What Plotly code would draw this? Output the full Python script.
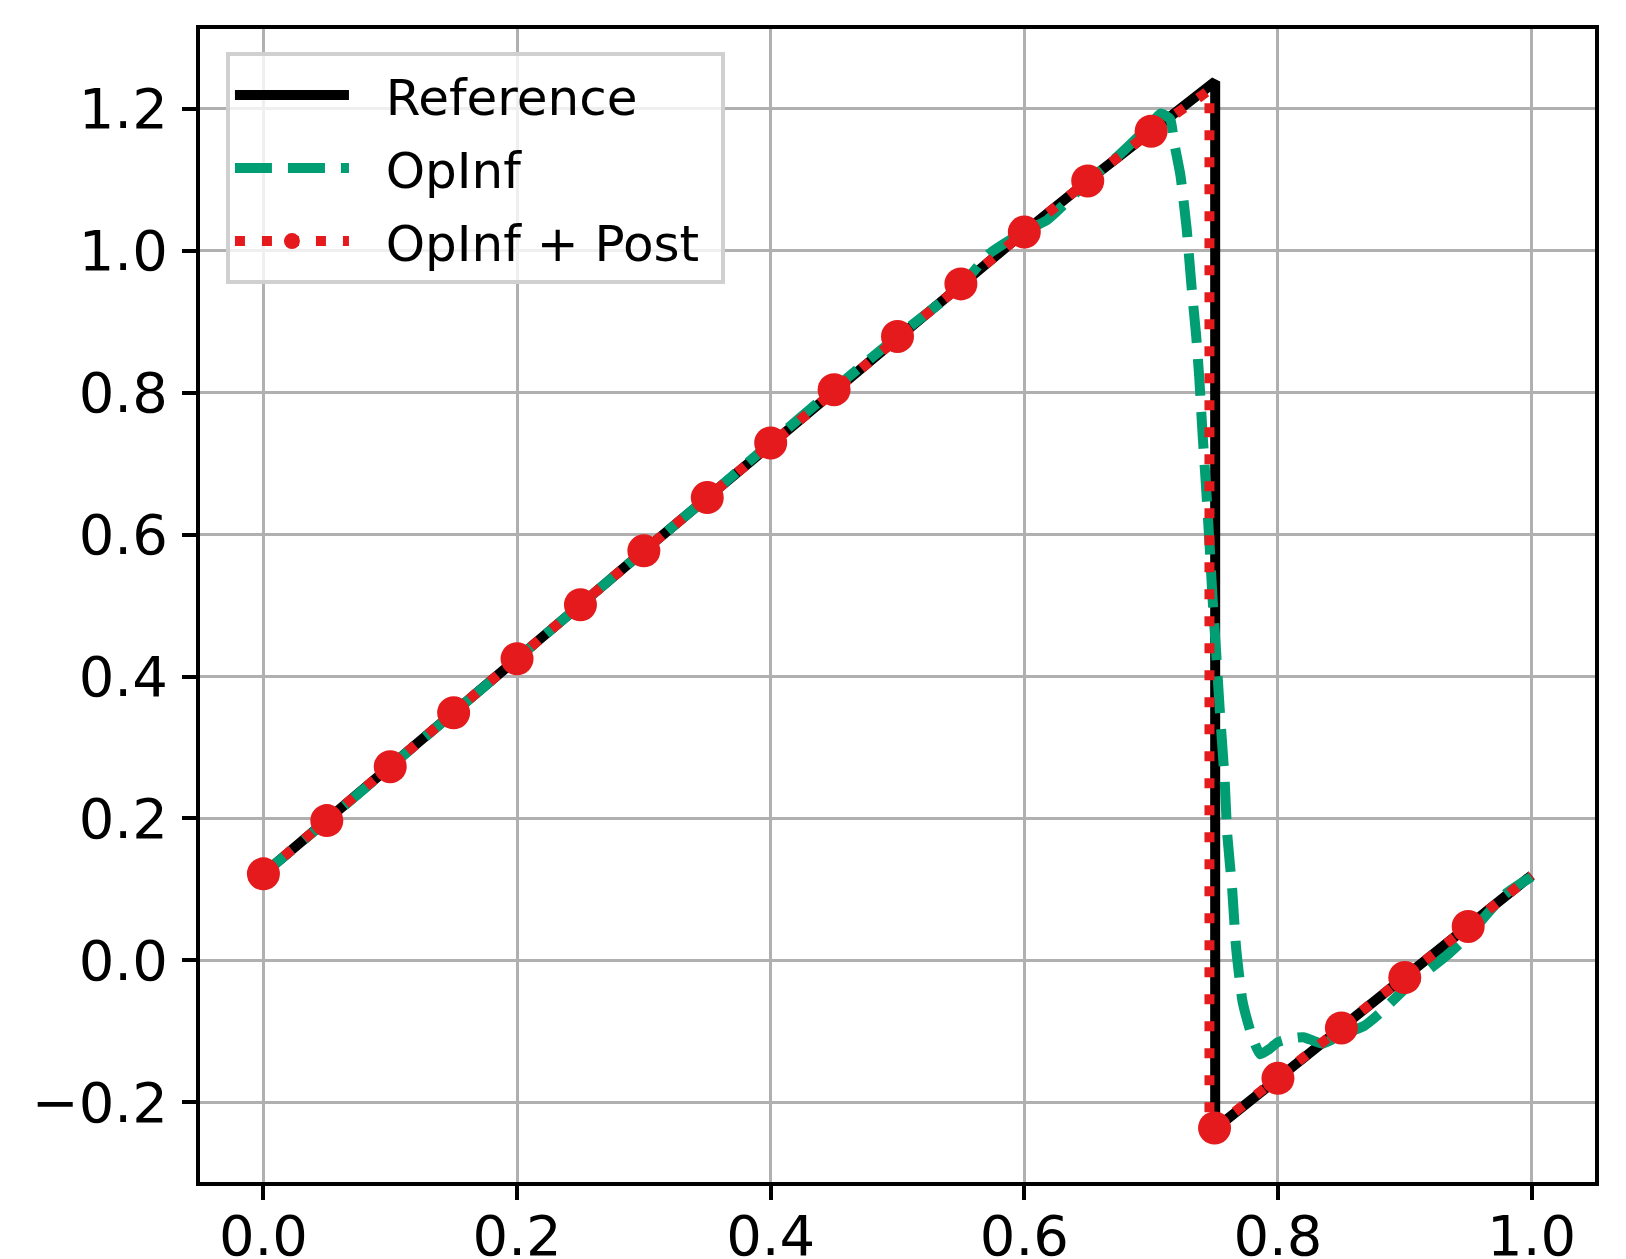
import plotly.graph_objects as go

# ---------------- data ----------------
REF_X = [0.00, 0.05, 0.10, 0.15, 0.20, 0.25, 0.30, 0.35, 0.40, 0.45, 0.50,
         0.55, 0.60, 0.65, 0.70, 0.7505, 0.7505, 0.80, 0.85, 0.90, 0.95, 1.00]
REF_Y = [0.122, 0.197, 0.273, 0.349, 0.425, 0.501, 0.577, 0.652, 0.729, 0.804, 0.879,
         0.953, 1.026, 1.098, 1.168, 1.238, -0.237, -0.166, -0.095, -0.024, 0.048, 0.120]

OPINF_X = [0.00, 0.05, 0.10, 0.15, 0.20, 0.25, 0.30, 0.35, 0.40, 0.45, 0.50,
           0.55, 0.572, 0.60, 0.618, 0.65, 0.675, 0.70, 0.7075, 0.715, 0.718,
           0.723, 0.728, 0.732, 0.7355, 0.738, 0.7405, 0.7434, 0.746, 0.7484,
           0.7513, 0.754, 0.758, 0.760, 0.764, 0.767, 0.772, 0.779, 0.786,
           0.793, 0.800, 0.810, 0.820, 0.835, 0.850, 0.868, 0.880, 0.900,
           0.935, 0.950, 0.979, 1.000]
OPINF_Y = [0.122, 0.197, 0.273, 0.349, 0.425, 0.501, 0.577, 0.652, 0.729, 0.805, 0.879,
           0.950, 0.995, 1.027, 1.043, 1.097, 1.135, 1.178, 1.193, 1.185, 1.153,
           1.107, 1.031, 0.946, 0.880, 0.819, 0.743, 0.664, 0.588, 0.511,
           0.433, 0.356, 0.253, 0.178, 0.098, 0.018, -0.057, -0.104, -0.132,
           -0.125, -0.115, -0.110, -0.108, -0.117, -0.105, -0.092, -0.075, -0.040,
           0.010, 0.035, 0.093, 0.118]

POST_X = [0.00, 0.05, 0.10, 0.15, 0.20, 0.25, 0.30, 0.35, 0.40, 0.45, 0.50,
          0.55, 0.60, 0.65, 0.70, 0.746, 0.746, 0.75, 0.80, 0.85, 0.90, 0.95, 1.00]
POST_Y = [0.122, 0.197, 0.273, 0.349, 0.425, 0.501, 0.577, 0.652, 0.729, 0.804, 0.879,
          0.953, 1.026, 1.098, 1.168, 1.226, -0.228, -0.236, -0.166, -0.095, -0.024, 0.048, 0.120]
POST_MARKED = [1, 1, 1, 1, 1, 1, 1, 1, 1, 1, 1,
               1, 1, 1, 1, 0, 0, 1, 1, 1, 1, 1, 0]

X_TICKS = [0.0, 0.2, 0.4, 0.6, 0.8, 1.0]
Y_TICKS = [-0.2, 0.0, 0.2, 0.4, 0.6, 0.8, 1.0, 1.2]
NAMES = ["Reference", "OpInf", "OpInf + Post"]

BLACK = "#000000"
GREEN = "#029E73"
RED = "#E41A1C"
FONT = "DejaVu Sans"
TICK_FS = 56
LEG_FS = 50
PAD = "\u00a0\u00a0"
TAIL = "\u00a0"

fig = go.Figure()
fig.add_trace(go.Scatter(x=REF_X, y=REF_Y, mode="lines", name=PAD + NAMES[0] + TAIL,
                         legendgroup="a",
                         line=dict(color=BLACK, width=10)))
fig.add_trace(go.Scatter(x=OPINF_X, y=OPINF_Y, mode="lines", name=PAD + NAMES[1] + TAIL,
                         legendgroup="b",
                         line=dict(color=GREEN, width=10, dash="37px,16px",
                                   shape="spline", smoothing=0.5)))
fig.add_trace(go.Scatter(x=POST_X, y=POST_Y, mode="lines+markers", name=PAD + NAMES[2] + TAIL,
                         legendgroup="c",
                         line=dict(color=RED, width=10, dash="10px,17px"),
                         marker=dict(color=RED, opacity=1,
                                     size=[33 if m else 0 for m in POST_MARKED],
                                     line=dict(width=0))))

axis_common = dict(
    showgrid=True, gridcolor="#b0b0b0", gridwidth=3,
    zeroline=False, showline=True, linecolor="black", linewidth=4, mirror=True,
    ticks="outside", ticklen=14, tickwidth=4, tickcolor="black",
    tickfont=dict(family=FONT, size=TICK_FS, color="black"),
    tickformat=".1f", automargin=False,
)

fig.update_layout(
    width=1626, height=1259,
    margin=dict(l=200, r=31, t=29, b=77, pad=0),
    paper_bgcolor="white", plot_bgcolor="white",
    font=dict(family=FONT, size=LEG_FS, color="black"),
    xaxis=dict(range=[-0.05, 1.05], tickvals=X_TICKS, ticklabelstandoff=-12, **axis_common),
    yaxis=dict(range=[-0.312, 1.312], tickvals=Y_TICKS, ticklabelstandoff=3, **axis_common),
    legend=dict(x=0.0186, y=0.980, xanchor="left", yanchor="top",
                bgcolor="rgba(255,255,255,0.8)", bordercolor="#d0d0d0", borderwidth=4,
                font=dict(family=FONT, size=LEG_FS, color="black"),
                itemwidth=114, traceorder="grouped", tracegroupgap=5),
    showlegend=True,
)

fig.write_html("out.html")
